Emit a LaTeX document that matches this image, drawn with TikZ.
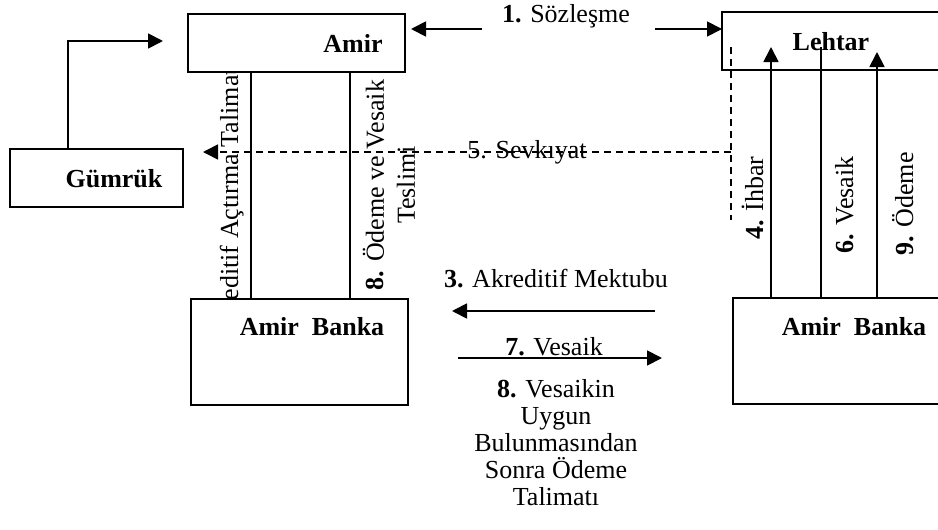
\documentclass[tikz,border=0pt]{standalone}
\usepackage{fontspec}
\setmainfont{Liberation Serif}
\usetikzlibrary{arrows.meta}
\begin{document}
\begin{tikzpicture}[x=1pt,y=-1pt,
  every node/.style={font=\fontsize{26}{27}\selectfont, inner sep=0pt, outer sep=0pt},
  box/.style={draw, line width=1.6pt},
  ln/.style={line width=1.8pt},
  arr/.style={line width=1.8pt, -{Triangle[length=15pt,width=15pt]}},
  dsh/.style={line width=1.6pt, dash pattern=on 7pt off 5pt},
  lbl/.style={anchor=base},
  vlbl/.style={rotate=90, anchor=base}
]
\useasboundingbox (0,0) rectangle (938,530);
\clip (0,0) rectangle (938,530);

% boxes
\node[box, minimum width=217pt, minimum height=58pt] (amir) at (296.5,43) {};
\node[box, minimum width=238pt, minimum height=58pt] (lehtar) at (841,41) {};
\node[box, minimum width=173pt, minimum height=58pt] (gumruk) at (96.5,178) {};
\node[box, minimum width=217pt, minimum height=106pt] (abl) at (299.5,352) {};
\node[box, minimum width=227pt, minimum height=106pt] (abr) at (846.5,351) {};

% box texts
\node[lbl] (tamir) at (353,52) {\textbf{Amir}};
\node[lbl] (tlehtar) at (831,50) {\textbf{Lehtar}};
\node[lbl] (tgumruk) at (114,187) {\textbf{Gümrük}};
\node[lbl] (tabl) at (312,335) {\textbf{Amir\ \ Banka}};
\node[lbl] (tabr) at (854,335) {\textbf{Amir\ \ Banka}};

% 1. Sözleşme
\coordinate (s1) at (482,29);
\coordinate (s2) at (655,29);
\draw[arr, shorten >=6pt] (s1) -- (s1 -| amir.east);
\draw[arr] (s2) -- (s2 -| lehtar.west);
\node[lbl] (t1) at (566,22) {\textbf{1.} Sözleşme};

% Gümrük -> Amir
\coordinate (gx) at (68,0);
\coordinate (gend) at (163,41);
\draw[arr] (gumruk.north -| gx) |- (gend);

% 5. Sevkıyat
\coordinate (dtop) at (731,47);
\coordinate (dbot) at (731,220);
\coordinate (dmid) at (731,152);
\coordinate (dend) at (203,152);
\draw[dsh] (dtop) -- (dbot);
\draw[dsh, -{Triangle[length=15pt,width=15pt]}] (dmid) -- (dend);
\node[lbl] (t5) at (527,158) {5. Sevkıyat};

% Amir <-> Amir Banka
\coordinate (xa) at (251,0);
\coordinate (xb) at (350,0);
\draw[ln] (amir.south -| xa) -- (abl.north -| xa);
\draw[ln] (amir.south -| xb) -- (abl.north -| xb);
\begin{scope}
  \clip (200,73) rectangle (250,297);
  \node[vlbl] (t2) at (238,215) {\textbf{2.} Akreditif Açtırma Talimatı};
\end{scope}
\node[rotate=90, align=center, font=\fontsize{26}{31}\selectfont] (t8v) at (389,185) {\textbf{8.} Ödeme ve Vesaik\\Teslimi};

% Lehtar <-> Amir Banka (right)
\coordinate (x4) at (771,47);
\coordinate (x6) at (821,47);
\coordinate (x9) at (877,52);
\draw[arr] (abr.north -| x4) -- (x4);
\draw[ln] (abr.north -| x6) -- (x6);
\draw[arr] (abr.north -| x9) -- (x9);
\node[vlbl] (t4) at (763,198) {\textbf{4.} İhbar};
\node[vlbl] (t6) at (853,205) {\textbf{6.} Vesaik};
\node[vlbl] (t9) at (913,204) {\textbf{9.} Ödeme};

% bank to bank
\coordinate (a3s) at (655,311);
\coordinate (a3e) at (452,311);
\draw[arr] (a3s) -- (a3e);
\node[lbl] (t3) at (556,287) {\textbf{3.} Akreditif Mektubu};
\coordinate (a7s) at (458,358);
\coordinate (a7e) at (662,358);
\draw[arr] (a7s) -- (a7e);
\node[lbl] (t7) at (554,355) {\textbf{7.} Vesaik};
\node[align=center, anchor=north] (t8b) at (556,379) {\textbf{8.} Vesaikin\\Uygun\\Bulunmasından\\Sonra Ödeme\\Talimatı};
\end{tikzpicture}
\end{document}
